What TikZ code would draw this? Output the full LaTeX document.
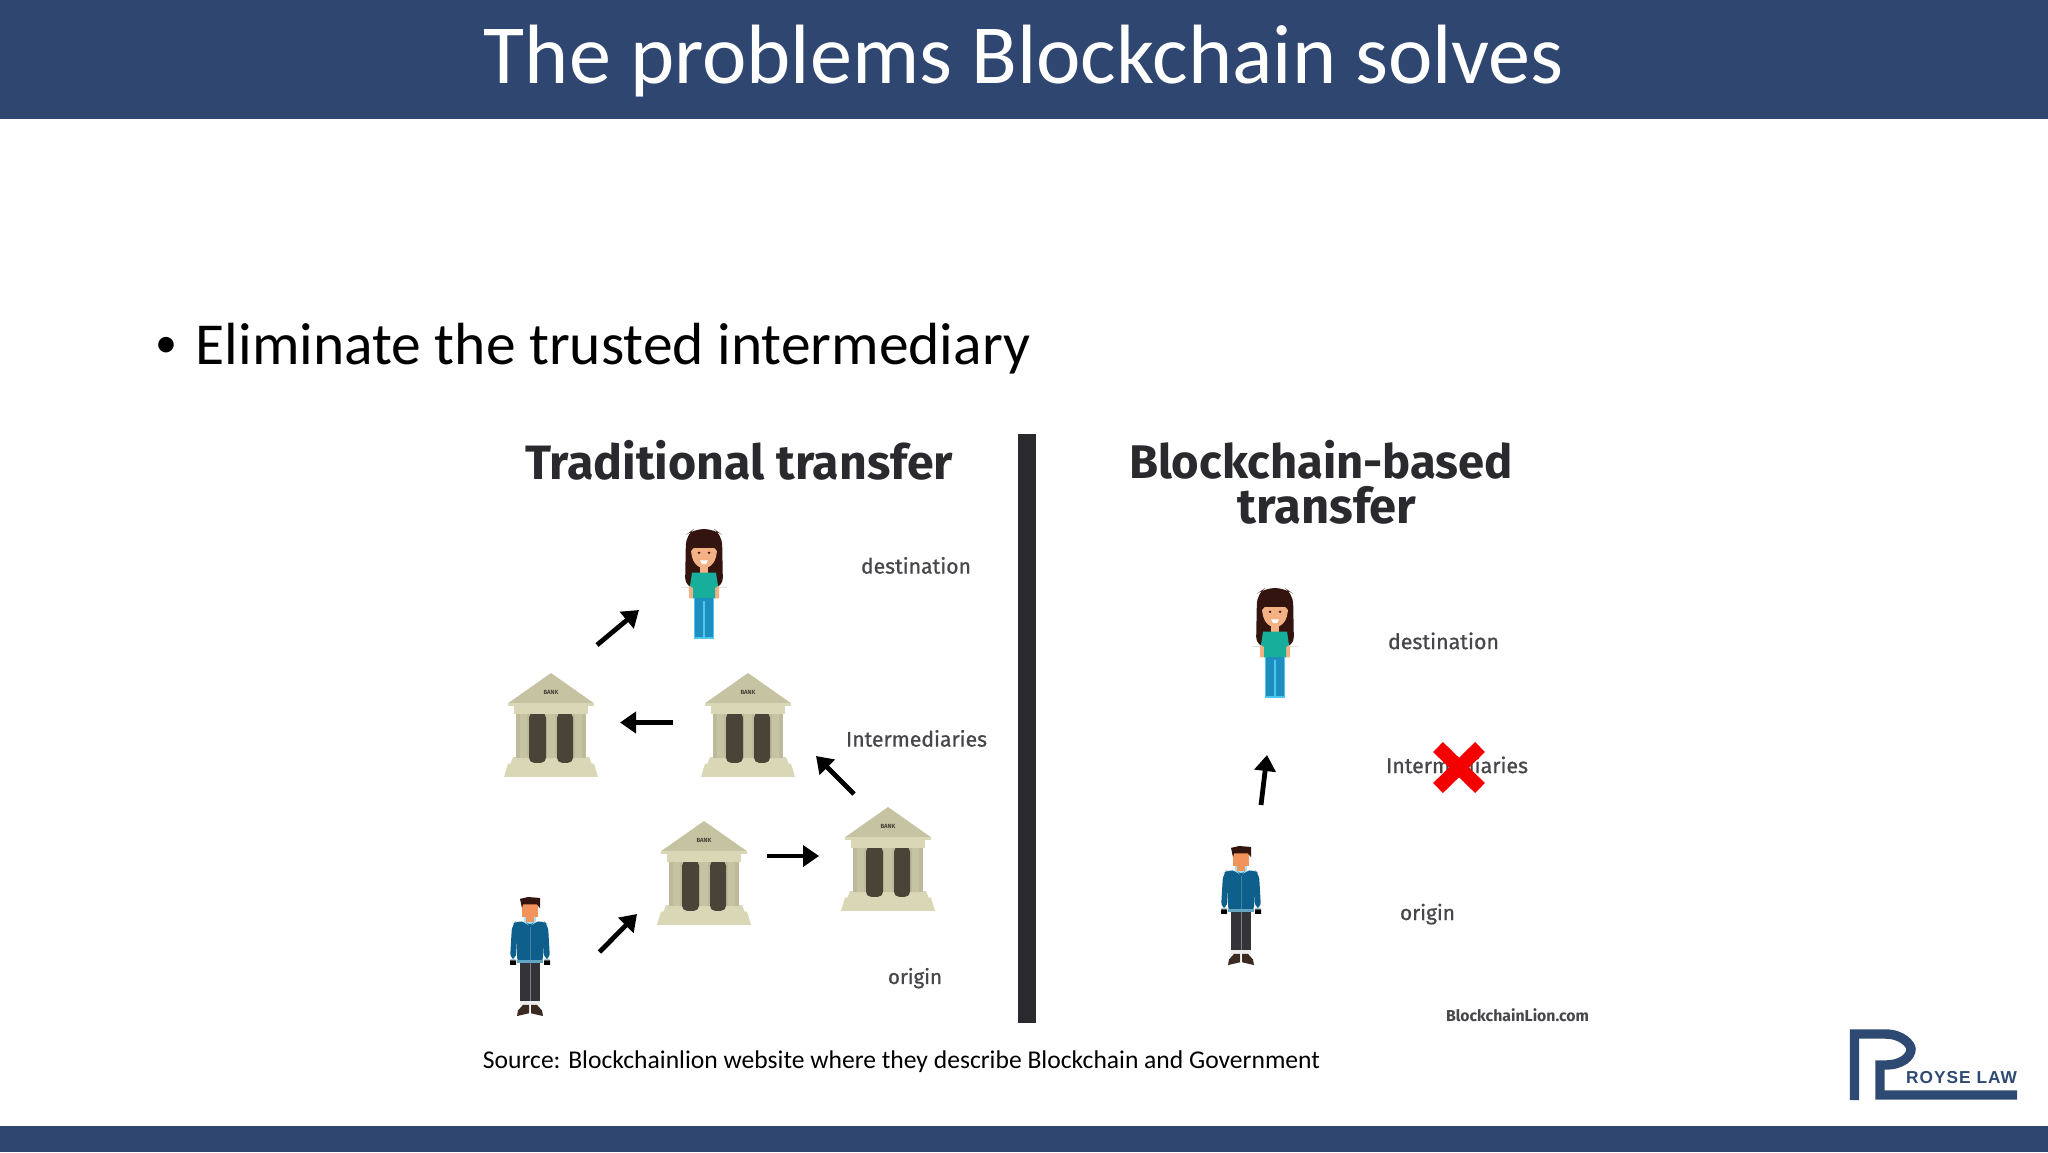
\documentclass[tikz,border=0pt]{standalone}
\usepackage{fontspec}
\usepackage{graphicx}
\usetikzlibrary{arrows.meta}
\setmainfont{Carlito}
\newfontfamily\lblfont[FakeBold=0.8]{Fira Sans}
\newfontfamily\headfont{Fira Sans}
\newfontfamily\logofont[LetterSpace=6]{Liberation Sans}
\definecolor{band}{HTML}{2F4670}
\definecolor{logoblue}{HTML}{2F4A72}
\definecolor{inkdark}{HTML}{2A2A2E}
\definecolor{inklabel}{HTML}{47474B}
\definecolor{stone}{HTML}{C6C3A3}
\definecolor{stonemid}{HTML}{BDBA9B}
\definecolor{stonelight}{HTML}{D9D7B6}
\definecolor{door}{HTML}{4A4338}
\definecolor{hairbrown}{HTML}{33140F}
\definecolor{skin}{HTML}{F4B183}
\definecolor{skinman}{HTML}{F2935C}
\definecolor{teal}{HTML}{17AE9B}
\definecolor{jeans}{HTML}{1C8FBE}
\definecolor{jacket}{HTML}{0E5F8B}
\definecolor{trousers}{HTML}{333338}
\definecolor{shoe}{HTML}{3A2A22}
\newcommand{\fitw}[2]{\resizebox{#1pt}{!}{\strut #2}}
\tikzset{
  x=0.5pt,y=-0.5pt,
  fitnode/.style={inner sep=0pt,outer sep=0pt,anchor=center},
  lbl/.style={fitnode,text=inklabel,font=\lblfont},
  headline/.style={fitnode,text=inkdark,font=\headfont\bfseries},
  flow/.style={line width=2.4pt,black,-{Triangle[length=8pt,width=10.5pt]}},
  bankpic/.pic={
    \begin{scope}[yscale=0.945]
    \fill[stonelight] (-43,96) -- (43,96) -- (47,110) -- (-47,110) -- cycle;
    \fill[stonelight] (-38,89) -- (38,89) -- (41,97) -- (-41,97) -- cycle;
    \fill[stonemid] (-35,43) rectangle (35,90);
    \fill[stone] (-31,43) rectangle (-24,90) (-4,43) rectangle (4,90) (24,43) rectangle (31,90);
    \fill[door,rounded corners=2.5pt] (-22,42) rectangle (-5,95);
    \fill[door,rounded corners=2.5pt] (6,42) rectangle (22,95);
    \fill[stonelight] (-37,34) rectangle (37,43);
    \fill[stone] (0,0) -- (43,32) -- (-43,32) -- cycle;
    \fill[stonelight] (-43,32) rectangle (43,35);
    \node[fitnode,text=door,font=\headfont\bfseries\fontsize{3}{3}\selectfont] (-lbl) at (0,21) {BANK};
    \end{scope}
  },
  girlpic/.pic={
    \begin{scope}[yscale=0.95]
    \fill[hairbrown,rounded corners=5pt] (-19,62) -- (-18,6) -- (-10,0) -- (10,0) -- (18,6) -- (19,62) -- (13,62) -- (-13,62) -- cycle;
    \fill[skin] (-15,60) rectangle (-10,73) (10,60) rectangle (15,73);
    \fill[skin] (-4,36) rectangle (4,47);
    \fill[skin] (-13,20) .. controls (-13,36) and (-6,41) .. (0,41) .. controls (6,41) and (13,36) .. (13,20) -- cycle;
    \fill[hairbrown] (-15,26) .. controls (-10,18) and (-4,14) .. (0,10) .. controls (4,14) and (10,18) .. (15,26) -- (15,6) -- (-15,6) -- cycle;
    \fill[white] (-4,33) -- (4,33) -- (2,37) -- (-2,37) -- cycle;
    \fill[hairbrown] (-5,25) circle [radius=1.3] (5,25) circle [radius=1.3];
    \fill[teal] (-12,46) -- (12,46) -- (14,60) -- (11,62) -- (11,73) -- (-11,73) -- (-11,62) -- (-14,60) -- cycle;
    \fill[jeans] (-10,73) rectangle (10,116);
    \draw[cyan!70!white,line width=0.6pt] (-9.5,116) -- (-9.5,73) (9.5,116) -- (9.5,73) (0,76) -- (0,116);
    \fill[cyan!70!white] (-10,113.5) rectangle (10,116);
    \end{scope}
  },
  manpic/.pic={
    \begin{scope}[yscale=0.93]
    \fill[trousers] (-10,69) rectangle (10,112);
    \draw[gray,line width=0.4pt] (0,71) -- (0,112);
    \fill[white!85!gray] (-10,112) rectangle (10,116);
    \fill[shoe] (-1,116) -- (-1,125) -- (-13,128) -- (-12,122) -- (-7,116) -- cycle;
    \fill[shoe] (1,116) -- (1,125) -- (13,128) -- (12,122) -- (7,116) -- cycle;
    \fill[black] (-20,68) rectangle (-14,73) (14,68) rectangle (20,73);
    \fill[cyan!35!white] (-6,22) rectangle (6,32);
    \fill[jacket,rounded corners=3pt] (-13,25) -- (-3,28) -- (0,32) -- (3,28) -- (13,25) -- (18,30) -- (20,67) -- (14,67) -- (13,44) -- (13,71) -- (-13,71) -- (-13,44) -- (-14,67) -- (-20,67) -- (-18,30) -- cycle;
    \draw[cyan!60!black,line width=0.5pt] (0,32) -- (0,69);
    \fill[cyan!50!gray] (-13,68) rectangle (13,71);
    \fill[skinman] (-8,6) rectangle (8,22);
    \fill[skinman] (-4,20) rectangle (4,27);
    \fill[hairbrown] (-10,2) -- (-2,0) -- (10,1) -- (10,12) -- (7,8) -- (-7,8) -- (-8,12) -- cycle;
    \end{scope}
  }
}
\begin{document}
\begin{tikzpicture}
\useasboundingbox (0,0) rectangle (2048,1152);
\fill[white] (0,0) rectangle (2048,1152);
\fill[band] (0,0) rectangle (2048,119);
\fill[band] (0,1126) rectangle (2048,1152);

\node[fitnode,text=white] (title) at (1024,63) {\fitw{540}{The problems Blockchain solves}};
\node[fitnode,text=black,font=\fontsize{22}{22}\selectfont] (bullet) at (166,347) {•};
\node[fitnode,text=black] (point) at (613,350) {\fitw{417}{Eliminate the trusted intermediary}};
\node[fitnode,text=black] (source) at (901.5,1062) {\fitw{418.5}{Source: Blockchainlion website where they describe Blockchain and Government}};

% divider
\fill[inkdark] (1017.5,434) rectangle (1035.5,1023);

% left panel
\node[headline] (tradhead) at (739,468) {\fitw{214}{Traditional transfer}};
\node[lbl] (ldest) at (916,568.5) {\fitw{55}{destination}};
\node[lbl] (linter) at (916.5,741.5) {\fitw{70.5}{Intermediaries}};
\node[lbl] (lorig) at (915,979) {\fitw{27}{origin}};

\pic (girlA) at (704,529) {girlpic};
\pic (bankA) at (551,673) {bankpic};
\pic (bankB) at (748,673) {bankpic};
\pic (bankC) at (704,821) {bankpic};
\pic (bankD) at (888,807) {bankpic};
\pic (manA) at (530,897) {manpic};

\coordinate (a1s) at (597,645); \coordinate (a1e) at (639,610);
\coordinate (a2s) at (673,722.5); \coordinate (a2e) at (620,722.5);
\coordinate (a3s) at (854,794); \coordinate (a3e) at (816,756);
\coordinate (a4s) at (599.5,952); \coordinate (a4e) at (637,914);
\coordinate (a5s) at (767,856); \coordinate (a5e) at (819,856);
\draw[flow] (a1s) -- (a1e);
\draw[flow] (a2s) -- (a2e);
\draw[flow] (a3s) -- (a3e);
\draw[flow] (a4s) -- (a4e);
\draw[flow] (a5s) -- (a5e);

% right panel
\node[headline] (chainhead) at (1321,467) {\fitw{192}{Blockchain-based}};
\node[headline] (chainhead2) at (1327,512) {\fitw{89.5}{transfer}};
\node[lbl] (rdest) at (1443.5,644) {\fitw{55.5}{destination}};
\node[lbl] (rinter) at (1457,768) {\fitw{71}{Intermediaries}};
\node[lbl] (rorig) at (1427.5,915) {\fitw{27.5}{origin}};
\node[fitnode,text=inklabel,font=\headfont\bfseries] (credit) at (1517.5,1018) {\fitw{71.5}{BlockchainLion.com}};

\pic (girlB) at (1275,588) {girlpic};
\pic (manB) at (1241,846) {manpic};
\coordinate (a6s) at (1261,805); \coordinate (a6e) at (1267,755);
\draw[flow] (a6s) -- (a6e);
\coordinate (xa) at (1438,747); \coordinate (xb) at (1480,788);
\coordinate (xc) at (1480,747); \coordinate (xd) at (1438,788);
\draw[line width=7pt,red!96!black] (xa) -- (xb) (xc) -- (xd);

% logo
\coordinate (r1) at (1854.5,1100);
\coordinate (r2) at (1854.5,1034);
\coordinate (r6) at (2017,1095);
\draw[logoblue,line width=4.7pt,line join=miter]
  (r1) -- (r2) -- (1885,1034) .. controls (1903,1034) and (1911,1045) .. (1911,1049)
  .. controls (1911,1056) and (1903,1065) .. (1885,1065) -- (1880,1065) -- (1880,1095) -- (r6);
\node[fitnode,text=logoblue,font=\logofont\bfseries] (logotext) at (1961.5,1079) {\fitw{55.5}{ROYSE LAW}};
\end{tikzpicture}
\end{document}
